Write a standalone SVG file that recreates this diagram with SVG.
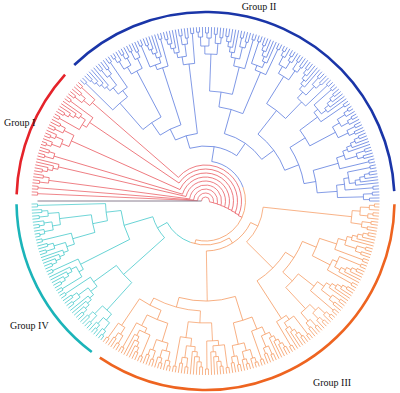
<svg xmlns="http://www.w3.org/2000/svg" width="400" height="393" viewBox="0 0 400 393">
<style>
text{font-family:"Liberation Serif","DejaVu Serif",serif;font-size:10px;fill:#111}
.lab{fill:none;stroke-width:2.6}
</style>
<defs>
<g id="A">
<path d="M166 0H174"/><path d="M166 0H174" transform="rotate(1)"/><path d="M161 0H174" transform="rotate(2)"/><path d="M156 0H174" transform="rotate(3)"/><path d="M151 0H174" transform="rotate(4)"/>
<circle r="166" pathLength="360" stroke-dasharray="1 999"/>
<path d="M161 0H166" transform="rotate(0.5)"/><circle r="161" pathLength="360" stroke-dasharray="1.5 999" transform="rotate(0.5)"/>
<path d="M156 0H161" transform="rotate(1.25)"/><circle r="156" pathLength="360" stroke-dasharray="1.75 999" transform="rotate(1.25)"/>
<path d="M151 0H156" transform="rotate(2.125)"/><circle r="151" pathLength="360" stroke-dasharray="1.875 999" transform="rotate(2.125)"/>
</g>
<g id="B">
<path d="M167 0H174"/><path d="M167 0H174" transform="rotate(1)"/><path d="M164 0H174" transform="rotate(2)"/><path d="M164 0H174" transform="rotate(3)"/>
<circle r="167" pathLength="360" stroke-dasharray="1 999"/><circle r="164" pathLength="360" stroke-dasharray="1 999" transform="rotate(2)"/>
<path d="M158 0H167" transform="rotate(0.5)"/><path d="M158 0H164" transform="rotate(2.5)"/>
<circle r="158" pathLength="360" stroke-dasharray="2 999" transform="rotate(0.5)"/>
</g>
<g id="C">
<path d="M168 0H174"/><path d="M168 0H174" transform="rotate(1)"/>
<circle r="168" pathLength="360" stroke-dasharray="1 999"/>
</g>
<g id="D">
<path d="M169 0H174"/><path d="M169 0H174" transform="rotate(1)"/><path d="M164 0H174" transform="rotate(2)"/><path d="M168 0H174" transform="rotate(3)"/><path d="M168 0H174" transform="rotate(4)"/><path d="M163 0H174" transform="rotate(5)"/>
<circle r="169" pathLength="360" stroke-dasharray="1 999"/>
<path d="M164 0H169" transform="rotate(0.5)"/><circle r="164" pathLength="360" stroke-dasharray="1.5 999" transform="rotate(0.5)"/>
<circle r="168" pathLength="360" stroke-dasharray="1 999" transform="rotate(3)"/>
<path d="M163 0H168" transform="rotate(3.5)"/><circle r="163" pathLength="360" stroke-dasharray="1.5 999" transform="rotate(3.5)"/>
<path d="M155 0H164" transform="rotate(1.25)"/><path d="M155 0H163" transform="rotate(4.25)"/>
<circle r="155" pathLength="360" stroke-dasharray="3 999" transform="rotate(1.25)"/>
</g>
<g id="P">
<use href="#A"/><use href="#B" transform="rotate(5)"/><use href="#C" transform="rotate(9)"/>
<path d="M146 0H151" transform="rotate(3.06)"/><path d="M146 0H158" transform="rotate(6.5)"/>
<circle r="146" pathLength="360" stroke-dasharray="3.44 999" transform="rotate(3.06)"/>
<path d="M138 0H146" transform="rotate(4.78)"/><path d="M138 0H168" transform="rotate(9.5)"/>
<circle r="138" pathLength="360" stroke-dasharray="4.72 999" transform="rotate(4.78)"/>
</g>
<g id="Q">
<use href="#D"/><use href="#B" transform="rotate(6)"/>
<path d="M147 0H155" transform="rotate(2.75)"/><path d="M147 0H158" transform="rotate(7.5)"/>
<circle r="147" pathLength="360" stroke-dasharray="4.75 999" transform="rotate(2.75)"/>
</g>
<g id="R">
<use href="#C"/><use href="#A" transform="rotate(2)"/><use href="#C" transform="rotate(7)"/>
<path d="M145 0H168" transform="rotate(0.5)"/><path d="M145 0H151" transform="rotate(5.06)"/>
<circle r="145" pathLength="360" stroke-dasharray="4.56 999" transform="rotate(0.5)"/>
<path d="M140 0H145" transform="rotate(2.78)"/><path d="M140 0H168" transform="rotate(7.5)"/>
<circle r="140" pathLength="360" stroke-dasharray="4.72 999" transform="rotate(2.78)"/>
</g>
</defs>
<rect width="400" height="393" fill="#fff"/>
<g id="tree" transform="translate(205.5 201)" fill="none" stroke-width="0.7">
<g id="clade-I" stroke="#e9545b">
<use href="#C" transform="rotate(182)"/><use href="#C" transform="rotate(184)"/><use href="#B" transform="rotate(186)"/><use href="#A" transform="rotate(190)"/><use href="#B" transform="rotate(195)"/><use href="#Q" transform="rotate(199)"/><use href="#R" transform="rotate(209)"/><use href="#B" transform="rotate(218)"/><use href="#C" transform="rotate(222)"/>
<path d="M150 0H158" transform="rotate(219.5)"/><path d="M150 0H168" transform="rotate(222.5)"/>
<circle r="150" pathLength="360" stroke-dasharray="3 999" transform="rotate(219.5)"/>
<path d="M8 0H168" transform="rotate(182.5)"/><path d="M12 0H168" transform="rotate(184.5)"/><path d="M16 0H158" transform="rotate(187.5)"/><path d="M20 0H151" transform="rotate(193.06)"/><path d="M24 0H158" transform="rotate(196.5)"/><path d="M28 0H147" transform="rotate(204.125)"/><path d="M32 0H140" transform="rotate(214.14)"/><path d="M36 0H150" transform="rotate(221)"/>
<circle r="4" pathLength="360" stroke-dasharray="192 999" transform="rotate(180)"/>
<circle r="8" pathLength="360" stroke-dasharray="191 999" transform="rotate(182.5)"/>
<circle r="12" pathLength="360" stroke-dasharray="190.5 999" transform="rotate(184.5)"/>
<circle r="16" pathLength="360" stroke-dasharray="189 999" transform="rotate(187.5)"/>
<circle r="20" pathLength="360" stroke-dasharray="184.94 999" transform="rotate(193.06)"/>
<circle r="24" pathLength="360" stroke-dasharray="183 999" transform="rotate(196.5)"/>
<circle r="28" pathLength="360" stroke-dasharray="176.875 999" transform="rotate(204.125)"/>
<circle r="32" pathLength="360" stroke-dasharray="168.36 999" transform="rotate(214.14)"/>
<circle r="36" pathLength="360" stroke-dasharray="163 999" transform="rotate(221)"/>
<path d="M4 0H8" transform="rotate(12)"/><path d="M8 0H12" transform="rotate(13.5)"/><path d="M12 0H16" transform="rotate(15)"/><path d="M16 0H20" transform="rotate(16.5)"/><path d="M20 0H24" transform="rotate(18)"/><path d="M24 0H28" transform="rotate(19.5)"/><path d="M28 0H32" transform="rotate(21)"/><path d="M32 0H36" transform="rotate(22.5)"/><path d="M36 0H40" transform="rotate(24)"/>
</g>
<g id="outgroup"><path d="M4 0H168" transform="rotate(180)" stroke="#7d6f85" stroke-width="0.9"/></g>
<g id="core">
<circle r="40" stroke="#5677dd" pathLength="360" stroke-dasharray="60.99 999" transform="rotate(279.01)"/>
<circle r="40" stroke="#f5975c" pathLength="360" stroke-dasharray="124 999" transform="rotate(340)"/>
<path d="M40 0H55" stroke="#5677dd" transform="rotate(279.01)"/>
<path d="M40 0H44" stroke="#f5975c" transform="rotate(104)"/>
</g>
<g id="clade-II" stroke="#5677dd">
<use href="#C" transform="rotate(224)"/><use href="#P" transform="rotate(226)"/><use href="#Q" transform="rotate(237)"/><use href="#R" transform="rotate(247)"/><use href="#P" transform="rotate(256)"/><use href="#Q" transform="rotate(267)"/><use href="#P" transform="rotate(277)"/><use href="#R" transform="rotate(288)"/><use href="#Q" transform="rotate(297)"/><use href="#P" transform="rotate(307)"/><use href="#R" transform="rotate(318)"/><use href="#Q" transform="rotate(327)"/><use href="#P" transform="rotate(337)"/><use href="#R" transform="rotate(348)"/><use href="#B" transform="rotate(357)"/>
<circle r="130" pathLength="360" stroke-dasharray="8.64 999" transform="rotate(224.5)"/><path d="M130 0H168" transform="rotate(224.5)"/><path d="M130 0H138" transform="rotate(233.14)"/>
<circle r="95" pathLength="360" stroke-dasharray="13.305 999" transform="rotate(228.82)"/><path d="M95 0H130" transform="rotate(228.82)"/><path d="M95 0H147" transform="rotate(242.125)"/>
<circle r="80" pathLength="360" stroke-dasharray="16.67 999" transform="rotate(235.47)"/><path d="M80 0H95" transform="rotate(235.47)"/><path d="M80 0H140" transform="rotate(252.14)"/>
<circle r="68" pathLength="360" stroke-dasharray="19.34 999" transform="rotate(243.8)"/><path d="M68 0H80" transform="rotate(243.8)"/><path d="M68 0H138" transform="rotate(263.14)"/>
<circle r="110" pathLength="360" stroke-dasharray="12.015 999" transform="rotate(272.125)"/><path d="M110 0H147" transform="rotate(272.125)"/><path d="M110 0H138" transform="rotate(284.14)"/>
<circle r="95" pathLength="360" stroke-dasharray="15.01 999" transform="rotate(278.13)"/><path d="M95 0H110" transform="rotate(278.13)"/><path d="M95 0H140" transform="rotate(293.14)"/>
<circle r="115" pathLength="360" stroke-dasharray="12.015 999" transform="rotate(302.125)"/><path d="M115 0H147" transform="rotate(302.125)"/><path d="M115 0H138" transform="rotate(314.14)"/>
<circle r="118" pathLength="360" stroke-dasharray="8.985 999" transform="rotate(323.14)"/><path d="M118 0H140" transform="rotate(323.14)"/><path d="M118 0H147" transform="rotate(332.125)"/>
<circle r="132" pathLength="360" stroke-dasharray="5.36 999" transform="rotate(353.14)"/><path d="M132 0H140" transform="rotate(353.14)"/><path d="M132 0H158" transform="rotate(358.5)"/>
<circle r="112" pathLength="360" stroke-dasharray="11.68 999" transform="rotate(344.14)"/><path d="M112 0H138" transform="rotate(344.14)"/><path d="M112 0H132" transform="rotate(355.82)"/>
<circle r="100" pathLength="360" stroke-dasharray="22.35 999" transform="rotate(327.63)"/><path d="M100 0H118" transform="rotate(327.63)"/><path d="M100 0H112" transform="rotate(349.98)"/>
<circle r="85" pathLength="360" stroke-dasharray="30.67 999" transform="rotate(308.13)"/><path d="M85 0H115" transform="rotate(308.13)"/><path d="M85 0H100" transform="rotate(338.8)"/>
<circle r="70" pathLength="360" stroke-dasharray="37.83 999" transform="rotate(285.64)"/><path d="M70 0H95" transform="rotate(285.64)"/><path d="M70 0H85" transform="rotate(323.47)"/>
<circle r="55" pathLength="360" stroke-dasharray="51.08 999" transform="rotate(253.47)"/><path d="M55 0H68" transform="rotate(253.47)"/><path d="M55 0H70" transform="rotate(304.55)"/>
</g>
<g id="clade-III" stroke="#f5975c">
<use href="#Q" transform="rotate(1)"/><use href="#P" transform="rotate(11)"/><use href="#R" transform="rotate(22)"/><use href="#P" transform="rotate(31)"/><use href="#Q" transform="rotate(42)"/><use href="#R" transform="rotate(52)"/><use href="#P" transform="rotate(61)"/><use href="#Q" transform="rotate(72)"/><use href="#R" transform="rotate(82)"/><use href="#P" transform="rotate(91)"/><use href="#Q" transform="rotate(102)"/><use href="#R" transform="rotate(112)"/><use href="#B" transform="rotate(121)"/><use href="#C" transform="rotate(125)"/>
<circle r="120" pathLength="360" stroke-dasharray="9 999" transform="rotate(18.14)"/><path d="M120 0H138" transform="rotate(18.14)"/><path d="M120 0H140" transform="rotate(27.14)"/>
<circle r="118" pathLength="360" stroke-dasharray="8.985 999" transform="rotate(38.14)"/><path d="M118 0H138" transform="rotate(38.14)"/><path d="M118 0H147" transform="rotate(47.125)"/>
<circle r="105" pathLength="360" stroke-dasharray="19.99 999" transform="rotate(22.64)"/><path d="M105 0H120" transform="rotate(22.64)"/><path d="M105 0H118" transform="rotate(42.63)"/>
<circle r="95" pathLength="360" stroke-dasharray="24.5 999" transform="rotate(32.64)"/><path d="M95 0H105" transform="rotate(32.64)"/><path d="M95 0H140" transform="rotate(57.14)"/>
<circle r="58" pathLength="360" stroke-dasharray="38.765 999" transform="rotate(6.125)"/><path d="M58 0H147" transform="rotate(6.125)"/><path d="M58 0H95" transform="rotate(44.89)"/>
<circle r="125" pathLength="360" stroke-dasharray="8.985 999" transform="rotate(68.14)"/><path d="M125 0H138" transform="rotate(68.14)"/><path d="M125 0H147" transform="rotate(77.125)"/>
<circle r="122" pathLength="360" stroke-dasharray="11 999" transform="rotate(87.14)"/><path d="M122 0H140" transform="rotate(87.14)"/><path d="M122 0H138" transform="rotate(98.14)"/>
<circle r="128" pathLength="360" stroke-dasharray="10.015 999" transform="rotate(107.125)"/><path d="M128 0H147" transform="rotate(107.125)"/><path d="M128 0H140" transform="rotate(117.14)"/>
<circle r="150" pathLength="360" stroke-dasharray="3 999" transform="rotate(122.5)"/><path d="M150 0H158" transform="rotate(122.5)"/><path d="M150 0H168" transform="rotate(125.5)"/>
<circle r="118" pathLength="360" stroke-dasharray="11.87 999" transform="rotate(112.13)"/><path d="M118 0H128" transform="rotate(112.13)"/><path d="M118 0H150" transform="rotate(124)"/>
<circle r="110" pathLength="360" stroke-dasharray="25.43 999" transform="rotate(92.64)"/><path d="M110 0H122" transform="rotate(92.64)"/><path d="M110 0H118" transform="rotate(118.07)"/>
<circle r="100" pathLength="360" stroke-dasharray="32.73 999" transform="rotate(72.63)"/><path d="M100 0H125" transform="rotate(72.63)"/><path d="M100 0H110" transform="rotate(105.36)"/>
<circle r="50" pathLength="360" stroke-dasharray="63.49 999" transform="rotate(25.51)"/><path d="M50 0H58" transform="rotate(25.51)"/><path d="M50 0H100" transform="rotate(89)"/>
<circle r="44" pathLength="360" stroke-dasharray="52.74 999" transform="rotate(57.26)"/><path d="M44 0H50" transform="rotate(57.26)"/>
</g>
<g id="clade-IV" stroke="#3cc6c8">
<use href="#Q" transform="rotate(127)"/><use href="#P" transform="rotate(137)"/><use href="#R" transform="rotate(148)"/><use href="#P" transform="rotate(157)"/><use href="#Q" transform="rotate(168)"/><use href="#C" transform="rotate(178)"/>
<circle r="110" pathLength="360" stroke-dasharray="12.015 999" transform="rotate(132.125)"/><path d="M110 0H147" transform="rotate(132.125)"/><path d="M110 0H138" transform="rotate(144.14)"/>
<circle r="115" pathLength="360" stroke-dasharray="8.985 999" transform="rotate(164.14)"/><path d="M115 0H138" transform="rotate(164.14)"/><path d="M115 0H147" transform="rotate(173.125)"/>
<circle r="100" pathLength="360" stroke-dasharray="9.87 999" transform="rotate(168.63)"/><path d="M100 0H115" transform="rotate(168.63)"/><path d="M100 0H168" transform="rotate(178.5)"/>
<circle r="85" pathLength="360" stroke-dasharray="20.43 999" transform="rotate(153.14)"/><path d="M85 0H140" transform="rotate(153.14)"/><path d="M85 0H100" transform="rotate(173.57)"/>
<circle r="55" pathLength="360" stroke-dasharray="25.23 999" transform="rotate(138.13)"/><path d="M55 0H110" transform="rotate(138.13)"/><path d="M55 0H85" transform="rotate(163.36)"/>
<circle r="44" pathLength="360" stroke-dasharray="40.75 999" transform="rotate(110)"/><path d="M44 0H55" transform="rotate(150.75)"/>
</g>
<g id="group-arcs">
<circle class="lab" r="189" stroke="#e5232a" pathLength="360" stroke-dasharray="40 999" transform="rotate(182)"/>
<circle class="lab" r="189" stroke="#1a35a8" pathLength="360" stroke-dasharray="131 999" transform="rotate(226)"/>
<circle class="lab" r="189" stroke="#ee6420" pathLength="360" stroke-dasharray="123 999" transform="rotate(1)"/>
<circle class="lab" r="189" stroke="#1bb4b9" pathLength="360" stroke-dasharray="52 999" transform="rotate(127)"/>
</g>
</g>
<g id="labels">
<text x="259" y="10" text-anchor="middle">Group II</text>
<text x="4" y="126">Group I</text>
<text x="10" y="329">Group IV</text>
<text x="313" y="386">Group III</text>
</g>
</svg>
